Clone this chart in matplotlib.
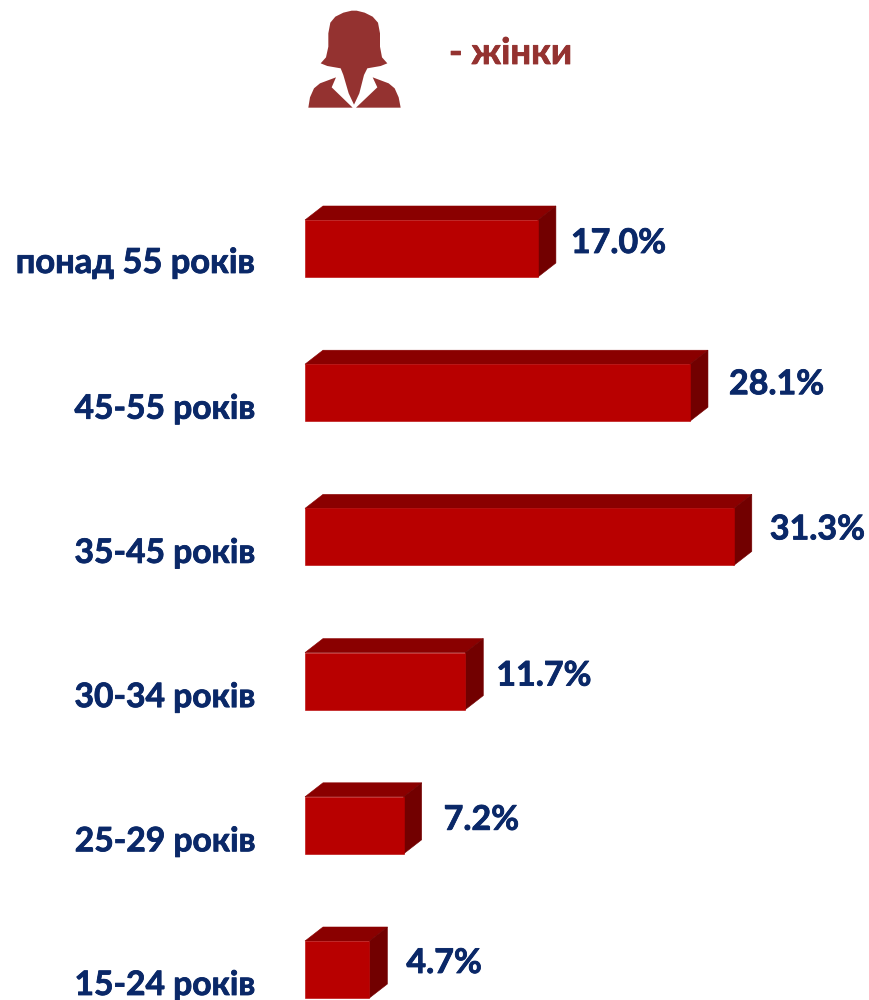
import matplotlib
matplotlib.use("Agg")
import matplotlib.pyplot as plt
from matplotlib.patches import Polygon
from matplotlib.transforms import offset_copy
import matplotlib.patheffects as pe

categories = ["понад 55 років", "45-55 років", "35-45 років", "30-34 років", "25-29 років", "15-24 років"]
values = [17.0, 28.1, 31.3, 11.7, 7.2, 4.7]
value_labels = ["17.0%", "28.1%", "31.3%", "11.7%", "7.2%", "4.7%"]
legend_label = "- жінки"

W, H = 869, 1000
FONT = ["Lato", "Open Sans", "DejaVu Sans"]
NAVY = "#0a2868"
BROWN = "#943230"
FRONT, TOP, SIDE = "#b80000", "#8a0000", "#720000"
px = 0.72  # points per pixel at dpi 100

fig = plt.figure(figsize=(W / 100, H / 100), dpi=100, facecolor="white")
ax = fig.add_axes([0, 0, 1, 1])
X0, XS, Y0, YS = 305, 13.7, 248.5, 144.2
ax.set_xlim(-X0 / XS, (W - X0) / XS)
ax.set_ylim((H - Y0) / YS, -Y0 / YS)
ax.axis("off")

ypos = list(range(len(values)))
bar_h = 57 / YS
dx, dy = 18 / XS, 14 / YS
ax.barh(ypos, values, height=bar_h, color=FRONT, edgecolor=FRONT, linewidth=0.4, zorder=3)
for y, v in zip(ypos, values):
    t, b = y - bar_h / 2, y + bar_h / 2
    ax.add_patch(Polygon([(0, t), (dx, t - dy), (v + dx, t - dy), (v, t)], fc=TOP, ec=TOP, lw=0.4, zorder=2))
    ax.add_patch(Polygon([(v, t), (v + dx, t - dy), (v + dx, b - dy), (v, b)], fc=SIDE, ec=SIDE, lw=0.4, zorder=2))

bold = [pe.withStroke(linewidth=0.6, foreground=NAVY)]
cat_shift = [24.5, 26, 26, 26, 26, 25.5]
cat_size = [24.8, 24.2, 24.2, 24.2, 24.2, 24.2]
for y, c, d, fs in zip(ypos, categories, cat_shift, cat_size):
    tr = offset_copy(ax.transData, fig=fig, x=-50 * px, y=-d * px, units="points")
    ax.text(0, y, c, transform=tr, ha="right", va="baseline", family=FONT,
            fontweight="bold", fontsize=fs, color=NAVY, path_effects=bold)

val_shift = [3.5, 0.5, 1.5, 3.5, 3.5, 2.5]
val_x = [33, 39, 36, 31, 40, 37]
for y, v, s, d, e in zip(ypos, values, value_labels, val_shift, val_x):
    tr = offset_copy(ax.transData, fig=fig, x=e * px, y=-(d + 1) * px, units="points")
    ax.text(v, y, s, transform=tr, ha="left", va="baseline", family=FONT,
            fontweight="bold", fontsize=24.5, color=NAVY, path_effects=bold)

# Legend icon and label, in pixel coordinates
ov = fig.add_axes([0, 0, 1, 1], facecolor="none")
ov.set_xlim(0, W)
ov.set_ylim(H, 0)
ov.axis("off")
ov.text(449, 64, legend_label, ha="left", va="baseline", family=FONT, fontweight="bold",
        fontsize=26.2, color=BROWN, path_effects=[pe.withStroke(linewidth=0.6, foreground=BROWN)])

def z(pts):
    return [(290 + a / 3, b / 3) for a, b in pts]

hair = [(185, 32), (160, 38), (136, 50), (121, 68), (115, 100), (115, 140), (108, 172), (92, 190),
        (112, 198), (152, 205), (160, 225), (176, 280), (192, 314), (208, 280), (222, 225), (232, 205),
        (272, 198), (292, 190), (276, 172), (270, 140), (270, 100), (264, 68), (248, 50), (224, 38), (200, 32)]
left = [(55, 323), (60, 292), (72, 265), (90, 250), (138, 232), (125, 262), (188, 323)]
right = [(332, 323), (326, 292), (314, 265), (296, 250), (248, 232), (262, 262), (198, 323)]
for shape in (hair, left, right):
    ov.add_patch(Polygon(z(shape), fc=BROWN, ec="none"))

fig.savefig("out.png", dpi=100, facecolor="white")
